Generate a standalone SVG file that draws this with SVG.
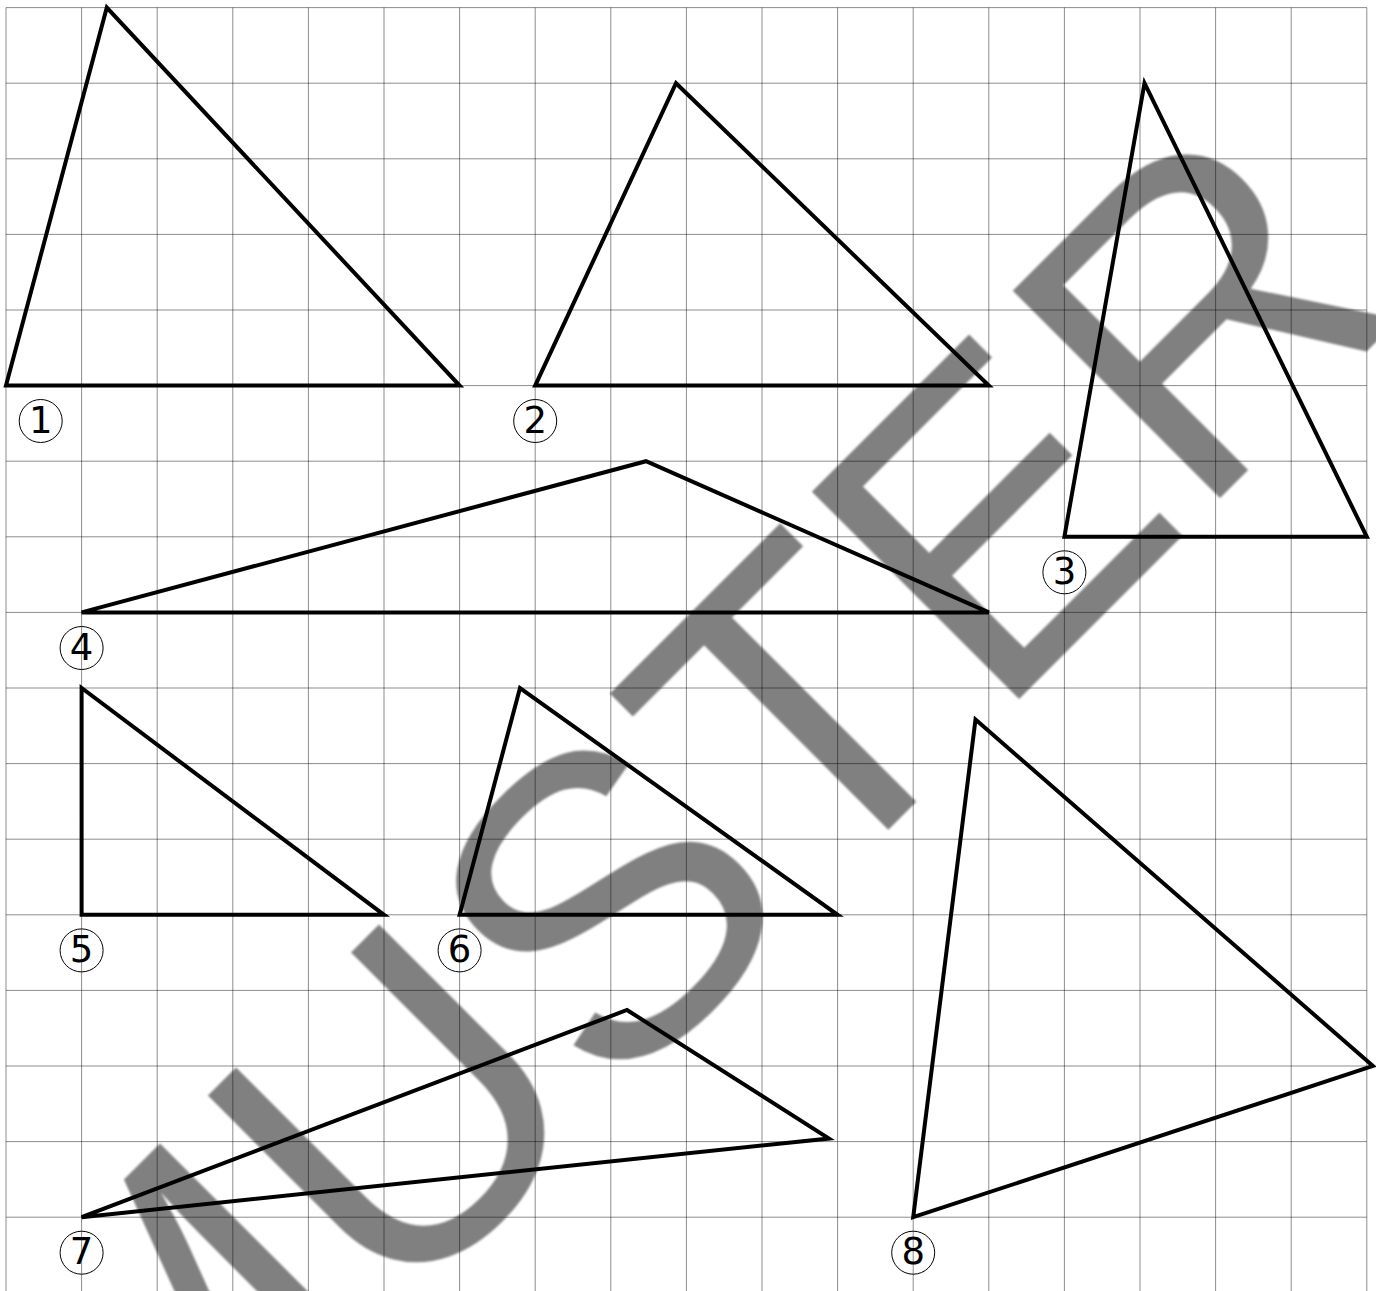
<svg xmlns="http://www.w3.org/2000/svg" width="1376" height="1291" viewBox="0 0 1376 1291">
<style>
.grid{stroke:#000;stroke-opacity:0.45;stroke-width:1;fill:none}
.tri{fill:none;stroke:#000;stroke-width:4;stroke-linejoin:miter}
.lbl circle{fill:none;stroke:#000;stroke-width:1}
.lbl text{font-family:"DejaVu Sans",sans-serif;font-size:37px;text-anchor:middle;fill:#000}
.wm{font-family:"Liberation Sans",Arial,sans-serif;font-size:426px;fill:#808080}
</style>
<defs>
<filter id="soft" x="-5%" y="-5%" width="110%" height="110%"><feGaussianBlur stdDeviation="1.3"/></filter>
</defs>
<rect width="1376" height="1291" fill="#fff"/>
<g id="watermark" filter="url(#soft)">
<text class="wm" transform="translate(141,1577) rotate(-45)">MUSTER</text>
</g>
<g id="grid" class="grid">
<path d="M6,7.6V1293M81.6,7.6V1293M157.2,7.6V1293M232.8,7.6V1293M308.4,7.6V1293M384,7.6V1293M459.6,7.6V1293M535.2,7.6V1293M610.8,7.6V1293M686.4,7.6V1293M762,7.6V1293M837.6,7.6V1293M913.2,7.6V1293M988.8,7.6V1293M1064.4,7.6V1293M1140,7.6V1293M1215.6,7.6V1293M1291.2,7.6V1293M1366.8,7.6V1293"/>
<path d="M6,7.6H1366.8M6,83.2H1366.8M6,158.8H1366.8M6,234.4H1366.8M6,310H1366.8M6,385.6H1366.8M6,461.2H1366.8M6,536.8H1366.8M6,612.4H1366.8M6,688H1366.8M6,763.6H1366.8M6,839.2H1366.8M6,914.8H1366.8M6,990.4H1366.8M6,1066H1366.8M6,1141.6H1366.8M6,1217.2H1366.8"/>
</g>
<g id="connectors">
<polygon id="tri1" class="tri" points="6,385.6 459.6,385.6 106.8,7.6"/>
<polygon id="tri2" class="tri" points="535.2,385.6 988.8,385.6 676,83.2"/>
<polygon id="tri3" class="tri" points="1064.4,536.8 1366.8,536.8 1144.5,83.2"/>
<polygon id="tri4" class="tri" points="81.6,612.4 988.8,612.4 646,461.2"/>
<polygon id="tri5" class="tri" points="81.6,688 81.6,914.8 384,914.8"/>
<polygon id="tri6" class="tri" points="459.6,914.8 837.6,914.8 520,688"/>
<polygon id="tri7" class="tri" points="81.6,1217.2 627,1010 829,1138.5"/>
<polygon id="tri8" class="tri" points="913.2,1217.2 975.5,719.5 1373,1066"/>
</g>
<g id="label1" class="lbl"><circle cx="40.7" cy="421" r="21.5"/><text x="40.7" y="432.5">1</text></g>
<g id="label2" class="lbl"><circle cx="535.2" cy="421" r="21.5"/><text x="535.2" y="432.5">2</text></g>
<g id="label3" class="lbl"><circle cx="1064.4" cy="572.3" r="21.5"/><text x="1064.4" y="583.8">3</text></g>
<g id="label4" class="lbl"><circle cx="81.6" cy="648" r="21.5"/><text x="81.6" y="659.5">4</text></g>
<g id="label5" class="lbl"><circle cx="81.6" cy="950.4" r="21.5"/><text x="81.6" y="961.9">5</text></g>
<g id="label6" class="lbl"><circle cx="459.6" cy="950.4" r="21.5"/><text x="459.6" y="961.9">6</text></g>
<g id="label7" class="lbl"><circle cx="81.6" cy="1252.7" r="21.5"/><text x="81.6" y="1264.2">7</text></g>
<g id="label8" class="lbl"><circle cx="913.2" cy="1252.7" r="21.5"/><text x="913.2" y="1264.2">8</text></g>
</svg>
